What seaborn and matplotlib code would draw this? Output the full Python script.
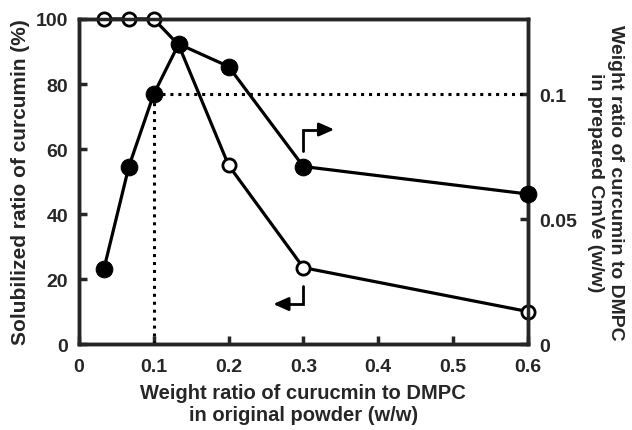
import matplotlib
matplotlib.use("Agg")
import matplotlib.pyplot as plt
import seaborn as sns
import pandas as pd
import numpy as np

# Data
x_ratio = [0.0333, 0.0667, 0.1, 0.1333, 0.2, 0.3, 0.6]
solubilized_pct = [100, 100, 100, 92, 55, 23.5, 10]          # open circles, left axis
prepared_ratio = [0.030, 0.071, 0.100, 0.120, 0.111, 0.071, 0.060]  # filled circles, right axis
x_ticks = [0, 0.1, 0.2, 0.3, 0.4, 0.5, 0.6]
x_ticklabels = ["0", "0.1", "0.2", "0.3", "0.4", "0.5", "0.6"]
left_ticks = [0, 20, 40, 60, 80, 100]
right_ticks = [0, 0.05, 0.1]
right_ticklabels = ["0", "0.05", "0.1"]

sns.set_style("ticks")
plt.rcParams['font.family'] = ['Liberation Sans', 'DejaVu Sans']
plt.rcParams['font.weight'] = 'bold'

fig = plt.figure(figsize=(6.32, 4.31), dpi=100)
ax = fig.add_axes([0.125, 0.1995, 0.71, 0.7541])
ax2 = ax.twinx()

df_open = pd.DataFrame({"x": x_ratio, "y": solubilized_pct})
df_fill = pd.DataFrame({"x": x_ratio, "y": prepared_ratio})

RMAX = 0.13

# dotted reference lines
ax2.plot([0.1, 0.6], [0.1, 0.1], color="black", lw=2.2, linestyle=(0, (1, 1.6)), zorder=1)
ax2.plot([0.1, 0.1], [0, 0.1], color="black", lw=2.2, linestyle=(0, (1, 1.6)), zorder=1)

sns.lineplot(data=df_open, x="x", y="y", ax=ax, color="black", lw=2.3,
             marker="o", markersize=9.5, markerfacecolor="white",
             markeredgecolor="black", markeredgewidth=2, zorder=3)
sns.lineplot(data=df_fill, x="x", y="y", ax=ax2, color="black", lw=2.3,
             marker="o", markersize=12, markerfacecolor="black",
             markeredgecolor="black", zorder=4)

for a in (ax, ax2):
    for ln in a.lines:
        ln.set_clip_on(False)

ax.set_xlim(0, 0.6)
ax.set_ylim(0, 100)
ax2.set_ylim(0, RMAX)

ax.set_xticks(x_ticks)
ax.set_xticklabels(x_ticklabels)
ax.set_yticks(left_ticks)
ax2.set_yticks(right_ticks)
ax2.set_yticklabels(right_ticklabels)

for a in (ax, ax2):
    for s in a.spines.values():
        s.set_linewidth(2.5)
        s.set_visible(True)
    a.tick_params(direction="in", width=2.5, length=6, labelsize=14, pad=8)
    for lab in a.get_xticklabels() + a.get_yticklabels():
        lab.set_fontweight("bold")
ax.tick_params(axis="x", pad=10)

ax.set_xlabel("Weight ratio of curucmin to DMPC\nin original powder (w/w)",
              fontsize=14.5, fontweight="bold", labelpad=6, linespacing=1.2)
ax.set_ylabel("Solubilized ratio of curcumin (%)", fontsize=15, fontweight="bold", labelpad=4)
ax2.set_ylabel("Weight ratio of curcumin to DMPC\nin prepared CmVe (w/w)", fontsize=14,
               fontweight="bold", rotation=270, labelpad=34, linespacing=1.25)

# bent arrows
ax.plot([0.3, 0.3, 0.325], [59.4, 66, 66], color="black", lw=2, solid_joinstyle="miter")
ax.annotate("", xy=(0.345, 66), xytext=(0.318, 66),
            arrowprops=dict(arrowstyle="-|>,head_length=0.9,head_width=0.4", color="black", lw=2))
ax.plot([0.3, 0.3, 0.275], [17.8, 12.3, 12.3], color="black", lw=2, solid_joinstyle="miter")
ax.annotate("", xy=(0.256, 12.3), xytext=(0.283, 12.3),
            arrowprops=dict(arrowstyle="-|>,head_length=0.9,head_width=0.4", color="black", lw=2))

fig.savefig("out.png", dpi=100)
